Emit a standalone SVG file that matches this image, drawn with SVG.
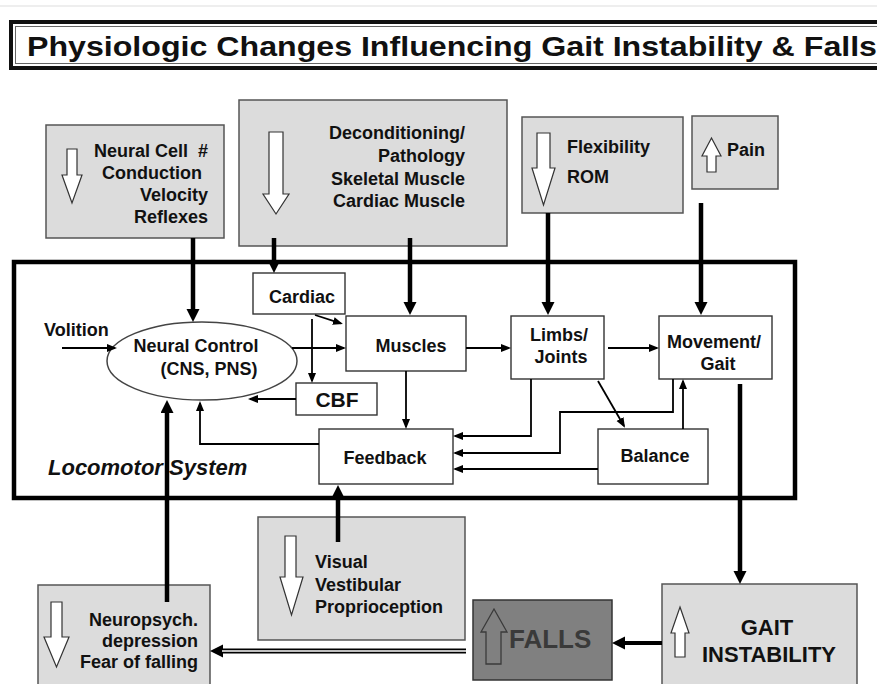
<svg xmlns="http://www.w3.org/2000/svg" width="877" height="684" viewBox="0 0 877 684">
<style>
text{font-family:"Liberation Sans",Arial,sans-serif;font-weight:bold;fill:#111;}
.t18{font-size:18px;}
.gbox{fill:#dcdcdc;stroke:#555;stroke-width:1.5;}
.wbox{fill:#fff;stroke:#333;stroke-width:1.4;}
.hollow{fill:#fff;stroke:#333;stroke-width:1.2;}
.thick{fill:none;stroke:#000;stroke-width:4.5;}
.thin{fill:none;stroke:#000;stroke-width:1.8;}
.end{text-anchor:end;}
.mid{text-anchor:middle;}
</style>
<defs>
<marker id="big" markerUnits="userSpaceOnUse" markerWidth="14" markerHeight="14" refX="7" refY="6.5" orient="auto"><path d="M0,0 L13,6.5 L0,13 z" fill="#000"/></marker>
<marker id="small" markerUnits="userSpaceOnUse" markerWidth="11" markerHeight="9" refX="8" refY="4" orient="auto"><path d="M0,0 L10,4 L0,8 z" fill="#000"/></marker>
</defs>
<rect width="877" height="684" fill="#fff"/>
<line x1="0" y1="6" x2="877" y2="6" stroke="#e8e8e8" stroke-width="1.5"/>

<g id="title">
<rect x="11" y="22" width="890" height="46" fill="#fff" stroke="#111" stroke-width="4"/>
<rect x="15.5" y="26.5" width="890" height="37" fill="none" stroke="#666" stroke-width="1"/>
<text x="27" y="56" style="font-size:28.5px" textLength="850" lengthAdjust="spacingAndGlyphs">Physiologic Changes Influencing Gait Instability &amp; Falls</text>
</g>

<g id="locomotor-system">
<rect x="14" y="262" width="781" height="236" fill="none" stroke="#000" stroke-width="4.5"/>
<text x="48" y="475" style="font-size:22px;font-style:italic">Locomotor System</text>
</g>

<g id="neural-cell">
<rect class="gbox" x="46" y="125" width="178" height="113"/>
<polygon class="hollow" points="67,149 77,149 77,175 82,175 72,203 62,175 67,175"/>
<text class="t18 end" x="208" y="157">Neural Cell&#160; #</text>
<text class="t18 end" x="202" y="179">Conduction</text>
<text class="t18 end" x="208" y="201">Velocity</text>
<text class="t18 end" x="208" y="223">Reflexes</text>
</g>

<g id="deconditioning">
<rect class="gbox" x="239" y="100" width="268" height="146"/>
<polygon class="hollow" points="269,132 283,132 283,194 289,194 276,214 263,194 269,194"/>
<text class="t18 end" x="465" y="139">Deconditioning/</text>
<text class="t18 end" x="465" y="162">Pathology</text>
<text class="t18 end" x="465" y="185">Skeletal Muscle</text>
<text class="t18 end" x="465" y="207">Cardiac Muscle</text>
</g>

<g id="flexibility">
<rect class="gbox" x="522" y="117" width="161" height="96"/>
<polygon class="hollow" points="537,133 550,133 550,168 555,168 543.5,205 532,168 537,168"/>
<text class="t18" x="567" y="153">Flexibility</text>
<text class="t18" x="567" y="183">ROM</text>
</g>

<g id="pain">
<rect class="gbox" x="692" y="116" width="86" height="73"/>
<polygon class="hollow" points="711.5,138 721,156 716,156 716,172 707,172 707,156 702,156"/>
<text class="t18" x="727" y="156">Pain</text>
</g>

<g id="neural-control">
<ellipse cx="202" cy="361" rx="95" ry="39" fill="#fff" stroke="#444" stroke-width="1.5"/>
<text class="t18 mid" x="196" y="352">Neural Control</text>
<text class="t18 mid" x="209" y="375">(CNS, PNS)</text>
</g>

<g id="volition">
<text class="t18" x="44" y="336">Volition</text>
</g>

<g id="cardiac">
<rect class="wbox" x="253" y="273" width="92" height="41"/>
<text class="t18 mid" x="302" y="303">Cardiac</text>
</g>

<g id="cbf">
<rect class="wbox" x="296" y="383" width="81" height="32"/>
<text class="mid" x="337" y="407" style="font-size:21px">CBF</text>
</g>

<g id="muscles">
<rect class="wbox" x="346" y="316" width="120" height="55"/>
<text class="t18 mid" x="411" y="352">Muscles</text>
</g>

<g id="limbs-joints">
<rect class="wbox" x="511" y="316" width="93" height="63"/>
<text class="t18 mid" x="559" y="341">Limbs/</text>
<text class="t18 mid" x="561" y="363">Joints</text>
</g>

<g id="movement-gait">
<rect class="wbox" x="659" y="316" width="113" height="63"/>
<text class="t18 mid" x="714" y="348">Movement/</text>
<text class="t18 mid" x="718" y="370">Gait</text>
</g>

<g id="feedback">
<rect class="wbox" x="319" y="429" width="134" height="55"/>
<text class="t18 mid" x="385" y="464">Feedback</text>
</g>

<g id="balance">
<rect class="wbox" x="598" y="429" width="110" height="55"/>
<text class="t18 mid" x="655" y="462">Balance</text>
</g>

<g id="visual">
<rect class="gbox" x="258" y="517" width="207" height="123"/>
<polygon class="hollow" points="285,536 296,536 296,577 303,577 291.5,615 280,577 285,577"/>
<text class="t18" x="315" y="568">Visual</text>
<text class="t18" x="315" y="591">Vestibular</text>
<text class="t18" x="315" y="613">Proprioception</text>
</g>

<g id="neuropsych">
<rect class="gbox" x="38" y="585" width="172" height="110"/>
<polygon class="hollow" points="51,602 62,602 62,637 69,637 56.5,667 44,637 51,637"/>
<text class="t18 end" x="198" y="626">Neuropsych.</text>
<text class="t18 end" x="198" y="647">depression</text>
<text class="t18 end" x="198" y="668">Fear of falling</text>
</g>

<g id="falls">
<rect x="473" y="600" width="139" height="80" fill="#808080" stroke="#333" stroke-width="1.5"/>
<polygon points="494,609 507,632 501,632 501,664 486,664 486,632 481,632" fill="#808080" stroke="#3a3a3a" stroke-width="1.3"/>
<text x="509" y="648" style="font-size:26px;fill:#3a3a3a">FALLS</text>
</g>

<g id="gait-instability">
<rect class="gbox" x="662" y="584" width="195" height="110"/>
<polygon class="hollow" points="680,607 689,633 685,633 685,657 675,657 675,633 671,633"/>
<text class="mid" x="767" y="635" style="font-size:22px">GAIT</text>
<text class="mid" x="769" y="662" style="font-size:22px">INSTABILITY</text>
</g>

<g id="connectors">
<line class="thick" x1="193" y1="238" x2="193" y2="316" marker-end="url(#big)"/>
<line class="thick" x1="274" y1="238" x2="274" y2="267" marker-end="url(#big)"/>
<line class="thick" x1="410" y1="238" x2="410" y2="309" marker-end="url(#big)"/>
<line class="thick" x1="548" y1="213" x2="548" y2="309" marker-end="url(#big)"/>
<line class="thick" x1="701" y1="203" x2="701" y2="309" marker-end="url(#big)"/>
<line class="thick" x1="740" y1="384" x2="740" y2="578" marker-end="url(#big)"/>
<line class="thick" x1="167" y1="602" x2="167" y2="406" marker-end="url(#big)"/>
<line class="thick" x1="338" y1="542" x2="338" y2="491" marker-end="url(#big)"/>
<line x1="662" y1="643" x2="618" y2="643" stroke="#000" stroke-width="4" marker-end="url(#big)"/>
<line x1="466" y1="651" x2="216" y2="651" stroke="#000" stroke-width="5" marker-end="url(#big)"/>
<line x1="466" y1="651" x2="222" y2="651" stroke="#fff" stroke-width="1.4"/>

<line class="thin" x1="62" y1="348" x2="115" y2="348" marker-end="url(#small)"/>
<line class="thin" x1="292" y1="348" x2="344" y2="348" marker-end="url(#small)"/>
<line class="thin" x1="315" y1="315" x2="341" y2="323.4" marker-end="url(#small)"/>
<line class="thin" x1="312" y1="319" x2="312" y2="381" marker-end="url(#small)"/>
<line class="thin" x1="296" y1="399" x2="250" y2="399" marker-end="url(#small)"/>
<path class="thin" d="M319,444 H200 V403" marker-end="url(#small)"/>
<line class="thin" x1="406" y1="371" x2="406" y2="427" marker-end="url(#small)"/>
<line class="thin" x1="466" y1="348" x2="509" y2="348" marker-end="url(#small)"/>
<line class="thin" x1="608" y1="348" x2="657" y2="348" marker-end="url(#small)"/>
<path class="thin" d="M531,379 V436 H455" marker-end="url(#small)"/>
<path class="thin" d="M673,379 V412 H560 V453 H455" marker-end="url(#small)"/>
<line class="thin" x1="683" y1="429" x2="683" y2="381" marker-end="url(#small)"/>
<line class="thin" x1="598" y1="469" x2="455" y2="469" marker-end="url(#small)"/>
<line class="thin" x1="598" y1="381" x2="624" y2="426" marker-end="url(#small)"/>
</g>
</svg>
